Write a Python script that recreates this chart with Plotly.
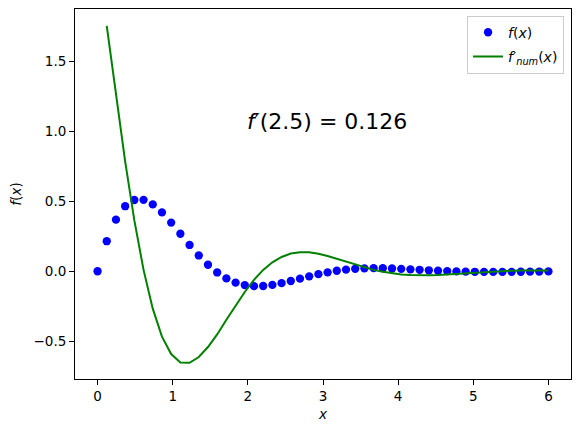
import plotly.graph_objects as go

# sample points of f(x)
x_pts = [0.0, 0.12245, 0.2449, 0.36735, 0.4898, 0.61224, 0.73469, 0.85714, 0.97959, 1.10204,
         1.22449, 1.34694, 1.46939, 1.59184, 1.71429, 1.83673, 1.95918, 2.08163, 2.20408, 2.32653,
         2.44898, 2.57143, 2.69388, 2.81633, 2.93878, 3.06122, 3.18367, 3.30612, 3.42857, 3.55102,
         3.67347, 3.79592, 3.91837, 4.04082, 4.16327, 4.28571, 4.40816, 4.53061, 4.65306, 4.77551,
         4.89796, 5.02041, 5.14286, 5.26531, 5.38776, 5.5102, 5.63265, 5.7551, 5.87755, 6.0]
f_vals = [0.0, 0.2145, 0.3683, 0.4643, 0.5087, 0.5099, 0.4772, 0.42, 0.3476, 0.2678,
          0.1877, 0.1128, 0.0466, -0.0086, -0.051, -0.0808, -0.0989, -0.1064, -0.1052, -0.0974,
          -0.0849, -0.0694, -0.0527, -0.0362, -0.0209, -0.0075, 0.0035, 0.0119, 0.0176, 0.021,
          0.0222, 0.0217, 0.0199, 0.0171, 0.0139, 0.0104, 0.007, 0.0038, 0.0011, -0.0011,
          -0.0027, -0.0038, -0.0044, -0.0046, -0.0045, -0.004, -0.0034, -0.0028, -0.002, -0.0013]

# numerical derivative (plotted from the second sample on)
x_der = x_pts[1:]
df_vals = [1.752, 1.256, 0.784, 0.363, 0.010, -0.267, -0.467, -0.591, -0.652, -0.654,
           -0.612, -0.541, -0.451, -0.346, -0.243, -0.148, -0.061, 0.010, 0.064, 0.102,
           0.127, 0.136, 0.135, 0.125, 0.109, 0.090, 0.069, 0.047, 0.028, 0.010,
           -0.004, -0.015, -0.023, -0.026, -0.029, -0.028, -0.026, -0.022, -0.018, -0.013,
           -0.009, -0.005, -0.002, 0.001, 0.004, 0.005, 0.005, 0.007, 0.006]

x_ticks = [0, 1, 2, 3, 4, 5, 6]
y_ticks = [-0.5, 0.0, 0.5, 1.0, 1.5]
y_ticktext = ["\u22120.5", "0.0", "0.5", "1.0", "1.5"]
annot_x = 2.0
annot_y = 1.0
annot_text = "<i>f</i>\u2032(2.5) = 0.126"

FONT = "DejaVu Sans"

fig = go.Figure()
fig.add_trace(go.Scatter(
    x=x_pts, y=f_vals, mode="markers",
    marker=dict(color="blue", size=8.3, line=dict(width=0)),
    name="<i>f</i>(<i>x</i>)", legendgroup="a",
))
fig.add_trace(go.Scatter(
    x=x_der, y=df_vals, mode="lines",
    line=dict(color="green", width=2),
    name="<i>f</i>\u2032<sub><i>num</i></sub>(<i>x</i>)", legendgroup="b",
))

axis_common = dict(
    showline=True, linecolor="black", linewidth=1, mirror=True,
    ticks="outside", ticklen=5, tickwidth=1, tickcolor="black",
    showgrid=False, zeroline=False, automargin=False,
    tickfont=dict(family=FONT, size=13.5, color="black"),
)

fig.update_xaxes(range=[-0.3, 6.3], tickvals=x_ticks,
                 title=dict(text="<i>x</i>", font=dict(family=FONT, size=13.5, color="black"), standoff=6),
                 **axis_common)
fig.update_yaxes(range=[-0.7692, 1.8723], tickvals=y_ticks, ticktext=y_ticktext,
                 title=dict(text="<i>f</i>(<i>x</i>)", font=dict(family=FONT, size=13.5, color="black"), standoff=8),
                 **axis_common)

fig.add_annotation(x=annot_x, y=annot_y, xref="x", yref="y", text=annot_text, showarrow=False,
                   xanchor="left", yanchor="bottom", xshift=-3, yshift=-5,
                   font=dict(family=FONT, size=22, color="black"))

fig.update_layout(
    width=580, height=432,
    margin=dict(l=75, r=9, t=9, b=53),
    paper_bgcolor="white", plot_bgcolor="white",
    showlegend=True,
    legend=dict(x=0.986, y=0.982, xanchor="right", yanchor="top",
                bgcolor="rgba(255,255,255,0.8)", bordercolor="#cccccc", borderwidth=1,
                font=dict(family=FONT, size=14, color="black"),
                tracegroupgap=3, itemwidth=30),
)

fig.write_html("out.html", config={"responsive": False, "displayModeBar": False},
               post_script="document.body.style.margin='0';document.body.style.padding='0';")
